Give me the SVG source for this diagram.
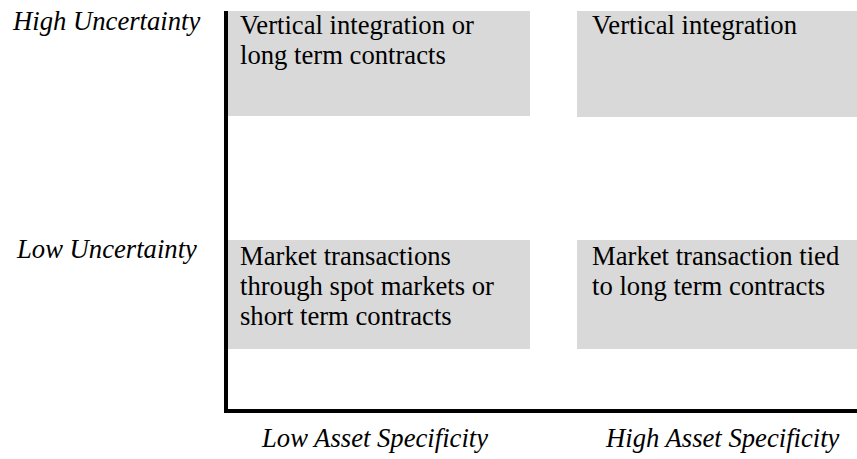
<svg xmlns="http://www.w3.org/2000/svg" width="857" height="459" viewBox="0 0 857 459">
<style>
.box{fill:#d9d9d9;stroke:none}
.t{font-size:26.67px;fill:#000}
.i{font-size:26.67px;font-style:italic;fill:#000}
.axis{stroke:#000;stroke-width:4;fill:none}
</style>
<rect width="857" height="459" fill="#fff"/>
<g id="tl">
<rect class="box" x="228" y="11" width="302" height="105"/>
<text class="t" font-family="Liberation Serif, Times New Roman, Times, serif" x="240" y="34">Vertical integration or</text>
<text class="t" font-family="Liberation Serif, Times New Roman, Times, serif" x="240" y="64">long term contracts</text>
</g>
<g id="tr">
<rect class="box" x="577" y="11" width="280" height="106"/>
<text class="t" font-family="Liberation Serif, Times New Roman, Times, serif" x="592" y="34">Vertical integration</text>
</g>
<g id="bl">
<rect class="box" x="228" y="240" width="302" height="109"/>
<text class="t" font-family="Liberation Serif, Times New Roman, Times, serif" x="240" y="265">Market transactions</text>
<text class="t" font-family="Liberation Serif, Times New Roman, Times, serif" x="240" y="295">through spot markets or</text>
<text class="t" font-family="Liberation Serif, Times New Roman, Times, serif" x="240" y="325">short term contracts</text>
</g>
<g id="br">
<rect class="box" x="577" y="240" width="280" height="109"/>
<text class="t" font-family="Liberation Serif, Times New Roman, Times, serif" x="592" y="265">Market transaction tied</text>
<text class="t" font-family="Liberation Serif, Times New Roman, Times, serif" x="592" y="295">to long term contracts</text>
</g>
<g id="axes">
<path class="axis" d="M226 11 V411 H857"/>
</g>
<g id="labels">
<text class="i" font-family="Liberation Serif, Times New Roman, Times, serif" x="13" y="30">High Uncertainty</text>
<text class="i" font-family="Liberation Serif, Times New Roman, Times, serif" x="17" y="258">Low Uncertainty</text>
<text class="i" font-family="Liberation Serif, Times New Roman, Times, serif" x="262" y="447">Low Asset Specificity</text>
<text class="i" font-family="Liberation Serif, Times New Roman, Times, serif" x="606" y="447">High Asset Specificity</text>
</g>
</svg>
